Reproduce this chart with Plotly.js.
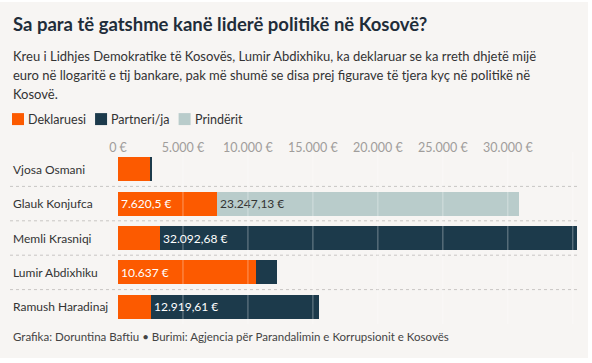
<!DOCTYPE html>
<html>
<head>
<meta charset="utf-8">
<script src="https://cdn.plot.ly/plotly-3.0.1.min.js"></script>
<style>
  html, body { margin: 0; padding: 0; background: #ffffff; }
  #chart { position: absolute; left: 0; top: 2px; width: 588px; height: 356px; }
</style>
</head>
<body>
<div id="chart"></div>
<script>
// ---- data ----
const politicians = ["Vjosa Osmani", "Glauk Konjufca", "Memli Krasniqi", "Lumir Abdixhiku", "Ramush Haradinaj"];
const deklaruesi = [2460, 7620.5, 3240, 10637, 2540];
const partneri   = [160, 0, 32092.68, 1590, 12919.61];
const prinderit  = [0, 23247.13, 0, 0, 0];
const seriesNames = ["Deklaruesi", "Partneri/ja", "Prindërit"];
const seriesColors = ["#fc5a00", "#1c3a4b", "#b9cccb"];
const tickValues = [0, 5000, 10000, 15000, 20000, 25000, 30000];
const tickLabels = ["0 €", "5.000 €", "10.000 €", "15.000 €", "20.000 €", "25.000 €", "30.000 €"];
const gridValues = [5000, 10000, 15000, 20000, 25000, 30000, 35000];
const titleText = "Sa para të gatshme kanë liderë politikë në Kosovë?";
const subtitleLines = [
  "Kreu i Lidhjes Demokratike të Kosovës, Lumir Abdixhiku, ka deklaruar se ka rreth dhjetë mijë",
  "euro në llogaritë e tij bankare, pak më shumë se disa prej figurave të tjera kyç në politikë në",
  "Kosovë."
];
const footerText = "Grafika: Doruntina Baftiu • Burimi: Agjencia për Parandalimin e Korrupsionit e Kosovës";

// ---- helpers ----
const FONT = "Lato, 'Noto Sans', sans-serif";
function fmtEuro(v) {
  const neg = v < 0; v = Math.abs(v);
  let s = (Math.round(v * 100) / 100).toFixed(2);
  let [ip, dp] = s.split(".");
  dp = dp.replace(/0+$/, "");
  ip = ip.replace(/\B(?=(\d{3})+(?!\d))/g, ".");
  return (neg ? "-" : "") + ip + (dp ? "," + dp : "") + " €";
}
const LABEL_MIN = 5000;
function labels(arr) { return arr.map(v => v >= LABEL_MIN ? fmtEuro(v) : ""); }

const W = 588, H = 356;
const M = { l: 118, r: 10, t: 150, b: 33.5 };
const PW = W - M.l - M.r, PH = H - M.t - M.b;
const px = x => (x - M.l) / PW;
const py = y => 1 - (y - M.t) / PH;

const values = [deklaruesi, partneri, prinderit];
const textColors = ["#ffffff", "#ffffff", "#333333"];
const traces = values.map((vals, i) => ({
  type: "bar",
  orientation: "h",
  name: seriesNames[i],
  y: politicians,
  x: vals,
  marker: { color: seriesColors[i], line: { width: 0 } },
  text: labels(vals),
  textposition: "inside",
  insidetextanchor: "start",
  textangle: 0,
  constraintext: "none",
  insidetextfont: { family: FONT, size: 12, color: textColors[i] },
  hoverinfo: "none",
  showlegend: false
}));

const shapes = [];
// gridlines drawn over the bars
gridValues.forEach(g => shapes.push({
  type: "line", xref: "x", yref: "paper", x0: g, x1: g, y0: 0, y1: 1,
  line: { color: "rgba(255,255,255,0.38)", width: 1 }, layer: "above"
}));
// dotted row separators
for (let i = 0; i < politicians.length - 1; i++) {
  shapes.push({
    type: "line", xref: "paper", yref: "y", x0: px(10), x1: px(578), y0: i + 0.5, y1: i + 0.5,
    line: { color: "#c8c6c4", width: 1, dash: "dot" }, layer: "below"
  });
}

const annotations = [];
// title
annotations.push({ xref: "paper", yref: "paper", x: px(11), y: py(22), xanchor: "left", yanchor: "middle",
  text: "<b>" + titleText + "</b>", showarrow: false, font: { family: FONT, size: 18.5, color: "#1f2d3a" } });
// subtitle lines
subtitleLines.forEach((ln, i) => annotations.push({ xref: "paper", yref: "paper", x: px(11), y: py(54 + i * 19),
  xanchor: "left", yanchor: "middle", text: ln, showarrow: false, font: { family: FONT, size: 13, color: "#333333" } }));
// row labels
politicians.forEach(p => annotations.push({ xref: "paper", yref: "y", x: px(11), y: p, xanchor: "left", yanchor: "middle",
  text: p, showarrow: false, font: { family: FONT, size: 12, color: "#333333" } }));
// footer
annotations.push({ xref: "paper", yref: "paper", x: px(11), y: py(335), xanchor: "left", yanchor: "middle",
  text: footerText, showarrow: false, font: { family: FONT, size: 11.5, color: "#444444" } });

// custom legend
const ctx = document.createElement("canvas").getContext("2d");
ctx.font = "12.5px Lato";
let lx = 12;
const legY = 117;
seriesNames.forEach((n, i) => {
  shapes.push({ type: "rect", xref: "paper", yref: "paper", x0: px(lx), x1: px(lx + 12), y0: py(legY + 6), y1: py(legY - 6),
    fillcolor: seriesColors[i], line: { width: 0 } });
  annotations.push({ xref: "paper", yref: "paper", x: px(lx + 15), y: py(legY), xanchor: "left", yanchor: "middle",
    text: n, showarrow: false, xshift: -1, font: { family: FONT, size: 12.5, color: "#333333" } });
  lx += 15 + ctx.measureText(n).width + 10;
});

const layout = {
  width: W, height: H,
  margin: M,
  paper_bgcolor: "#f7f5f3",
  plot_bgcolor: "rgba(0,0,0,0)",
  barmode: "stack",
  bargap: 0.3,
  showlegend: false,
  font: { family: FONT },
  xaxis: {
    side: "top", range: [0, 35400], tickvals: tickValues, ticktext: tickLabels,
    showgrid: false, zeroline: false, showline: false, ticks: "",
    ticklabelstandoff: -3,
    tickfont: { family: FONT, size: 12.5, color: "#a09d9b" }, fixedrange: true
  },
  yaxis: {
    autorange: "reversed", showticklabels: false, showgrid: false, zeroline: false, ticks: "", fixedrange: true
  },
  shapes: shapes,
  annotations: annotations
};

Plotly.newPlot("chart", traces, layout, { displayModeBar: false, staticPlot: true });
</script>
</body>
</html>
